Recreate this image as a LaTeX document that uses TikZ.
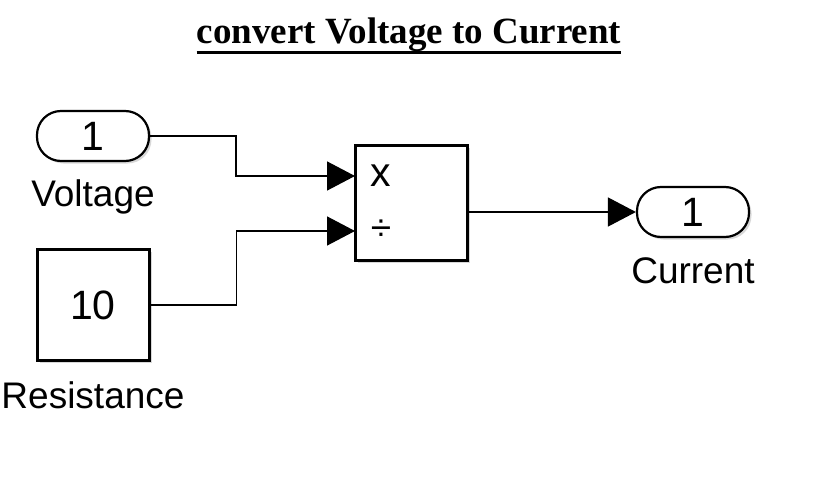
\documentclass[tikz,border=0pt]{standalone}
\usepackage{fontspec}
\setmainfont{Liberation Sans}
\newfontfamily\titlefont{Liberation Serif}
\usetikzlibrary{arrows.meta,shadows}

\tikzset{
  blockshadow/.style={drop shadow={shadow xshift=2.5pt,shadow yshift=-2.5pt,fill=black!30}},
  block/.style={draw, line width=3pt, fill=white, inner sep=0pt,
    minimum width=112pt, blockshadow},
  port/.style={draw, line width=2.2pt, fill=white, rounded corners=24pt, inner sep=0pt,
    minimum width=112pt, minimum height=50pt, blockshadow},
  signal/.style={line width=1.5pt, -{Triangle[length=28pt,width=29pt]}},
  every node/.style={font=\fontsize{37}{40}\selectfont},
  digit/.style={font=\fontsize{41}{44}\selectfont}
}

\begin{document}
\begin{tikzpicture}[x=1pt,y=-1pt]
  \useasboundingbox (0,0) rectangle (824,503);
  % title
  \node (title) [anchor=base, inner sep=0pt, font=\titlefont\bfseries\fontsize{37}{40}\selectfont] at (409,44) {convert Voltage to Current};
  \draw [line width=3pt] ([yshift=-9pt]title.base west) -- ([yshift=-9pt]title.base east);
  % blocks
  \node (vin) [port, digit] at (93,136) {1};
  \node [inner sep=0pt] at (93,197) {Voltage};
  \node (res) [block, digit, minimum height=111pt] at (93,305) {10};
  \node [inner sep=0pt] at (93,395) {Resistance};
  \node (prod) [block, minimum height=115pt] at (411,202.5) {};
  \node [inner sep=0pt, digit] at (381,176) {x};
  \node [inner sep=0pt] at (381,230) {÷};
  \node (vout) [port, digit] at (693,212) {1};
  \node [inner sep=0pt] at (693,271) {Current};
  % signals
  \coordinate (in1) at (355,176);
  \coordinate (in2) at (355,231);
  \draw [signal] (vin.east) -- ++(86,0) |- (in1);
  \draw [signal] (res.east) -- ++(86,0) |- (in2);
  \draw [signal] (prod.east |- vout.west) -- (vout.west);
\end{tikzpicture}
\end{document}
